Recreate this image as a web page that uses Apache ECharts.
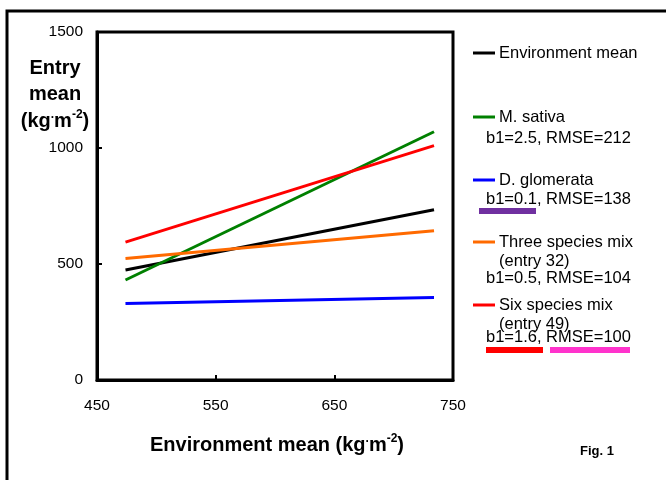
<!DOCTYPE html>
<html><head><meta charset="utf-8">
<script src="https://cdn.jsdelivr.net/npm/echarts@6/dist/echarts.min.js"></script>
<style>html,body{margin:0;padding:0;background:#fff}#c{width:666px;height:480px}</style>
</head><body><div id="c"></div>
<script>
// Data
const xEnds = [474, 734];
const envMean = [474, 734];
const mSativa = [431, 1070];
const dGlomerata = [330, 356];
const threeMix = [524, 643];
const sixMix = [594, 1010];
const seriesNames = ['Environment mean', 'M. sativa', 'D. glomerata', 'Three species mix', 'Six species mix'];
const seriesColors = ['#000000', '#008000', '#0000ff', '#ff6a00', '#ff0000'];
const seriesValues = [envMean, mSativa, dGlomerata, threeMix, sixMix];
const xTicks = [450, 550, 650, 750];
const yTicks = [0, 500, 1000, 1500];

const FONT = "'Liberation Sans', Arial, sans-serif";
const chart = echarts.init(document.getElementById('c'));

const series = seriesValues.map((vals, i) => ({
  name: seriesNames[i],
  type: 'line',
  data: xEnds.map((x, j) => [x, vals[j]]),
  symbol: 'none',
  lineStyle: { color: seriesColors[i], width: 3 },
  z: 3 + i
}));

function legendItem(y, color) {
  return { type: 'line', shape: { x1: 473, y1: y, x2: 495, y2: y }, style: { stroke: color, lineWidth: 3 } };
}
function txt(x, y, s) {
  return { type: 'text', x: x, y: y, style: { text: s, font: '16.5px ' + FONT, fill: '#000', textVerticalAlign: 'middle', textAlign: 'left' } };
}

const graphic = [
  { type: 'rect', shape: { x: 7, y: 11, width: 720, height: 520 }, style: { fill: 'none', stroke: '#000', lineWidth: 3 } },
  legendItem(53, seriesColors[0]), txt(499, 53, 'Environment mean'),
  legendItem(117, seriesColors[1]), txt(499, 117, 'M. sativa'), txt(486, 138, 'b1=2.5, RMSE=212'),
  legendItem(180, seriesColors[2]), txt(499, 180, 'D. glomerata'), txt(486, 199, 'b1=0.1, RMSE=138'),
  { type: 'rect', shape: { x: 479, y: 208, width: 57, height: 6 }, style: { fill: '#7030a0' } },
  legendItem(242, seriesColors[3]), txt(499, 242, 'Three species mix'), txt(499, 261, '(entry 32)'), txt(486, 278, 'b1=0.5, RMSE=104'),
  legendItem(305, seriesColors[4]), txt(499, 305, 'Six species mix'), txt(499, 324, '(entry 49)'), txt(486, 337, 'b1=1.6, RMSE=100'),
  { type: 'rect', shape: { x: 486, y: 347, width: 57, height: 6 }, style: { fill: '#ff0000' } },
  { type: 'rect', shape: { x: 550, y: 347, width: 80, height: 6 }, style: { fill: '#ff33cc' } },
  // y axis title
  { type: 'text', x: 55, y: 68, style: { text: 'Entry', font: 'bold 20px ' + FONT, fill: '#000', textAlign: 'center', textVerticalAlign: 'middle' } },
  { type: 'text', x: 55, y: 94, style: { text: 'mean', font: 'bold 20px ' + FONT, fill: '#000', textAlign: 'center', textVerticalAlign: 'middle' } },
  { type: 'text', x: 55, y: 120, style: {
      text: '{b|(kg}{s|.}{b|m}{s|-2}{b|)}', textAlign: 'center', textVerticalAlign: 'middle',
      rich: {
        b: { fontSize: 20, fontWeight: 'bold', fontFamily: FONT, color: '#000', lineHeight: 22, verticalAlign: 'bottom' },
        s: { fontSize: 12, fontWeight: 'bold', fontFamily: FONT, color: '#000', lineHeight: 22, verticalAlign: 'top', padding: [0, 0, 10, 0] }
      } } },
  // x axis title
  { type: 'text', x: 277, y: 444, style: {
      text: '{b|Environment mean (kg}{s|.}{b|m}{s|-2}{b|)}', textAlign: 'center', textVerticalAlign: 'middle',
      rich: {
        b: { fontSize: 20, fontWeight: 'bold', fontFamily: FONT, color: '#000', lineHeight: 22, verticalAlign: 'bottom' },
        s: { fontSize: 12, fontWeight: 'bold', fontFamily: FONT, color: '#000', lineHeight: 22, verticalAlign: 'top', padding: [0, 0, 10, 0] }
      } } },
  { type: 'text', x: 597, y: 451, style: { text: 'Fig. 1', font: 'bold 13px ' + FONT, fill: '#000', textAlign: 'center', textVerticalAlign: 'middle' } }
];

chart.setOption({
  animation: false,
  backgroundColor: '#fff',
  grid: { left: 97, right: 213, top: 32, bottom: 100, show: true, borderColor: '#000', borderWidth: 3, backgroundColor: 'transparent' },
  xAxis: {
    type: 'value', min: xTicks[0], max: xTicks[xTicks.length - 1], interval: 100,
    axisLine: { show: true, lineStyle: { color: '#000', width: 3 } },
    axisTick: { show: true, inside: true, length: 5, lineStyle: { color: '#000', width: 2 } },
    axisLabel: { color: '#000', fontSize: 15.5, fontFamily: FONT, margin: 18, formatter: v => String(v) },
    splitLine: { show: false }
  },
  yAxis: {
    type: 'value', min: yTicks[0], max: yTicks[yTicks.length - 1], interval: 500,
    axisLine: { show: true, lineStyle: { color: '#000', width: 3 } },
    axisTick: { show: true, inside: true, length: 5, lineStyle: { color: '#000', width: 2 } },
    axisLabel: { color: '#000', fontSize: 15.5, fontFamily: FONT, margin: 14, formatter: v => String(v) },
    splitLine: { show: false }
  },
  series: series,
  graphic: graphic
});
</script></body></html>
